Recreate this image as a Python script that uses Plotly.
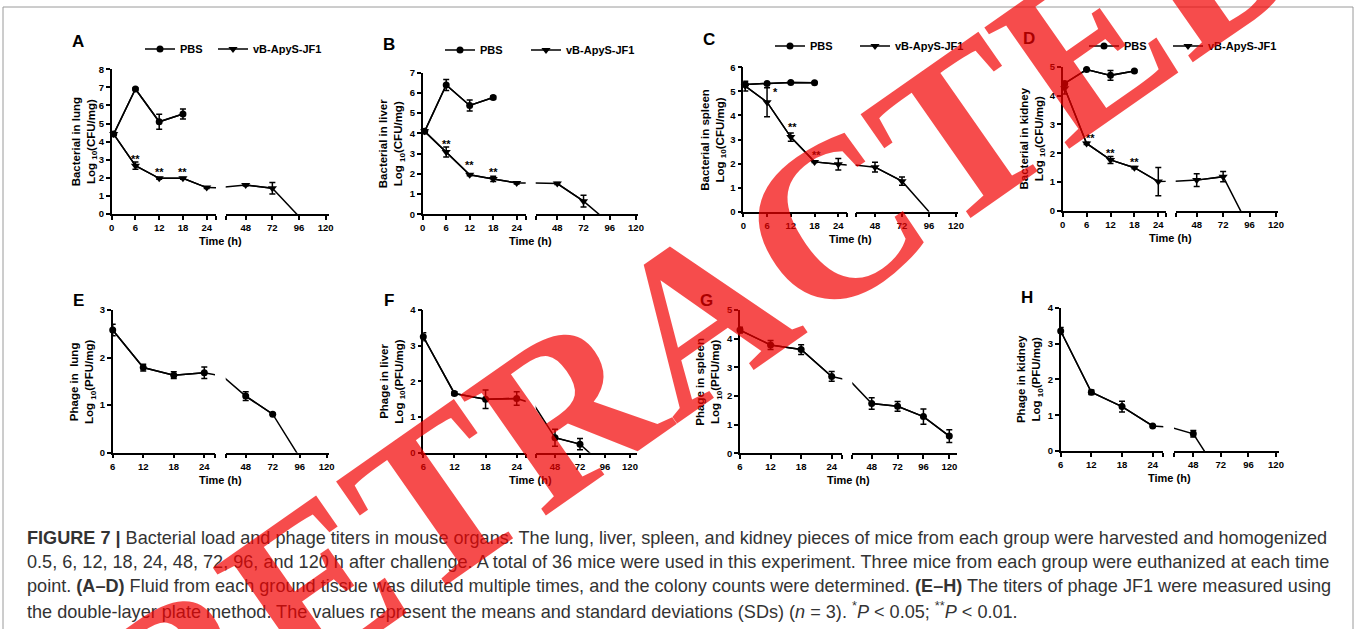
import plotly.graph_objects as go

W, H = 1357, 629
FONT = "Liberation Sans, Arial, sans-serif"

# ---------------- data ----------------
t_pbs = [0.5, 6, 12, 18]
t_bact = [0.5, 6, 12, 18, 24, 48, 72, 96]

lung_pbs = [4.42, 6.91, 5.1, 5.53]
lung_pbs_sd = [0.05, 0.05, 0.42, 0.28]
lung_jf1 = [4.42, 2.67, 1.97, 1.97, 1.46, 1.6, 1.42, -0.14]
lung_jf1_sd = [0.05, 0.2, 0.05, 0.05, 0.05, 0.05, 0.32, 0.0]

liver_pbs = [4.1, 6.39, 5.38, 5.77]
liver_pbs_sd = [0.05, 0.27, 0.27, 0.08]
liver_jf1 = [4.1, 3.08, 1.95, 1.75, 1.55, 1.52, 0.65, -0.45]
liver_jf1_sd = [0.05, 0.25, 0.05, 0.13, 0.05, 0.05, 0.29, 0.0]

spleen_pbs = [5.29, 5.33, 5.37, 5.36]
spleen_pbs_sd = [0.03, 0.03, 0.03, 0.03]
spleen_jf1 = [5.22, 4.55, 3.1, 2.07, 1.97, 1.85, 1.27, 0.0]
spleen_jf1_sd = [0.2, 0.6, 0.17, 0.03, 0.24, 0.2, 0.17, 0.0]

kidney_pbs = [4.42, 4.9, 4.7, 4.85]
kidney_pbs_sd = [0.05, 0.03, 0.17, 0.03]
kidney_jf1 = [4.25, 2.34, 1.77, 1.5, 1.02, 1.07, 1.19, -0.6]
kidney_jf1_sd = [0.2, 0.04, 0.12, 0.04, 0.49, 0.22, 0.18, 0.0]

t_phage_lung = [6, 12, 18, 24, 48, 72, 96]
lung_phage = [2.58, 1.79, 1.63, 1.68, 1.19, 0.81, -0.1]
lung_phage_sd = [0.12, 0.07, 0.07, 0.12, 0.09, 0.02, 0.0]

t_phage_liver = [6, 12, 18, 24, 48, 72, 96]
liver_phage = [3.25, 1.66, 1.5, 1.52, 0.42, 0.24, -0.4]
liver_phage_sd = [0.11, 0.05, 0.26, 0.19, 0.24, 0.16, 0.0]

t_phage_spleen = [6, 12, 18, 24, 48, 72, 96, 120]
spleen_phage = [4.3, 3.78, 3.62, 2.68, 1.74, 1.64, 1.28, 0.6]
spleen_phage_sd = [0.1, 0.16, 0.17, 0.17, 0.2, 0.17, 0.27, 0.22]

t_phage_kidney = [6, 12, 18, 24, 48, 72]
kidney_phage = [3.35, 1.64, 1.24, 0.7, 0.48, -0.72]
kidney_phage_sd = [0.1, 0.06, 0.15, 0.02, 0.09, 0.0]

ticks_early_bact = [0, 6, 12, 18, 24]
ticks_early_phage = [6, 12, 18, 24]
ticks_late = [48, 72, 96, 120]

stars_lung = {6: "**", 12: "**", 18: "**"}
stars_liver = {6: "**", 12: "**", 18: "**"}
stars_spleen = {6: "*", 12: "**", 18: "**"}
stars_kidney = {6: "**", 12: "**", 18: "**"}

caption_lines = [
    "<b>FIGURE 7 |</b> Bacterial load and phage titers in mouse organs. The lung, liver, spleen, and kidney pieces of mice from each group were harvested and homogenized",
    "0.5, 6, 12, 18, 24, 48, 72, 96, and 120 h after challenge. A total of 36 mice were used in this experiment. Three mice from each group were euthanized at each time",
    "point. <b>(A–D)</b> Fluid from each ground tissue was diluted multiple times, and the colony counts were determined. <b>(E–H)</b> The titers of phage JF1 were measured using",
    "the double-layer plate method. The values represent the means and standard deviations (SDs) (<i>n</i> = 3). <sup>*</sup><i>P</i> &lt; 0.05; <sup>**</sup><i>P</i> &lt; 0.01.",
]

# ---------------- panels ----------------
panels = [
    dict(letter="A", ytitle="Bacterial in lung", unit="CFU", ymax=8, xstart=0, xticks=ticks_early_bact,
         series=[("PBS", t_pbs, lung_pbs, lung_pbs_sd, "circle"),
                 ("vB-ApyS-JF1", t_bact, lung_jf1, lung_jf1_sd, "triangle-down")],
         stars=stars_lung, star_off=[(0, -1), (0, -2), (0, -2)],
         g=dict(ax=111.7, p24=206.7, e1=216, s2=225.7, p48=245.7, p120=325.7, e2=329, y0=214, ytop=69.3, tx=27),
         leg=[(160, 49), (233, 49)]),
    dict(letter="B", ytitle="Bacterial in liver", unit="CFU", ymax=7, xstart=0, xticks=ticks_early_bact,
         series=[("PBS", t_pbs, liver_pbs, liver_pbs_sd, "circle"),
                 ("vB-ApyS-JF1", t_bact, liver_jf1, liver_jf1_sd, "triangle-down")],
         stars=stars_liver, star_off=[(0, 0), (0, 2), (0, -1)],
         g=dict(ax=422.7, p24=516.7, e1=525.7, s2=535.7, p48=557.3, p120=636, e2=638, y0=214.3, ytop=72.7, tx=31),
         leg=[(460, 50), (546, 50)]),
    dict(letter="C", ytitle="Bacterial in spleen", unit="CFU", ymax=6, xstart=0, xticks=ticks_early_bact,
         series=[("PBS", t_pbs, spleen_pbs, spleen_pbs_sd, "circle"),
                 ("vB-ApyS-JF1", t_bact, spleen_jf1, spleen_jf1_sd, "triangle-down")],
         stars=stars_spleen, star_off=[(8, 2), (2, 2), (2, -1)],
         g=dict(ax=743.3, p24=838.3, e1=846.7, s2=855.7, p48=875, p120=956, e2=958, y0=211.7, ytop=67.3, tx=30),
         leg=[(790, 46), (875, 46)]),
    dict(letter="D", ytitle="Bacterial in kidney", unit="CFU", ymax=5, xstart=0, xticks=ticks_early_bact,
         series=[("PBS", t_pbs, kidney_pbs, kidney_pbs_sd, "circle"),
                 ("vB-ApyS-JF1", t_bact, kidney_jf1, kidney_jf1_sd, "triangle-down")],
         stars=stars_kidney, star_off=[(4, -3), (0, -1), (0, -2)],
         g=dict(ax=1062.7, p24=1158.3, e1=1165.7, s2=1175.7, p48=1196.7, p120=1276, e2=1278, y0=211, ytop=66.7, tx=30),
         leg=[(1104, 46), (1188, 46)]),
    dict(letter="E", ytitle="Phage in  lung", unit="PFU", ymax=3, xstart=6, xticks=ticks_early_phage,
         series=[("lung", t_phage_lung, lung_phage, lung_phage_sd, "circle")],
         stars={}, star_off=[],
         g=dict(ax=112.7, p24=204.3, e1=215, s2=225.7, p48=245.7, p120=326.7, e2=329.3, y0=452.7, ytop=310, tx=30),
         leg=None),
    dict(letter="F", ytitle="Phage in liver", unit="PFU", ymax=4, xstart=6, xticks=ticks_early_phage,
         series=[("liver", t_phage_liver, liver_phage, liver_phage_sd, "circle")],
         stars={}, star_off=[],
         g=dict(ax=423.3, p24=516.7, e1=525.7, s2=535.7, p48=555, p120=630, e2=637, y0=452.7, ytop=310, tx=31),
         leg=None),
    dict(letter="G", ytitle="Phage in spleen", unit="PFU", ymax=5, xstart=6, xticks=ticks_early_phage,
         series=[("spleen", t_phage_spleen, spleen_phage, spleen_phage_sd, "circle")],
         stars={}, star_off=[],
         g=dict(ax=740, p24=831.7, e1=842.3, s2=852.3, p48=871.7, p120=949.3, e2=957, y0=453.3, ytop=310, tx=31),
         leg=None),
    dict(letter="H", ytitle="Phage in kidney", unit="PFU", ymax=4, xstart=6, xticks=ticks_early_phage,
         series=[("kidney", t_phage_kidney, kidney_phage, kidney_phage_sd, "circle")],
         stars={}, star_off=[],
         g=dict(ax=1060.7, p24=1152.7, e1=1163.3, s2=1174, p48=1193.3, p120=1276, e2=1279, y0=451, ytop=307.7, tx=31),
         leg=None),
]


def fx(px):
    return px / W


def fy(py):
    return 1 - py / H


def ref(prefix, n):
    return prefix if n == 1 else f"{prefix}{n}"


def key(prefix, n):
    return f"{prefix}axis" if n == 1 else f"{prefix}axis{n}"


fig = go.Figure()
layout = dict(
    width=W, height=H, margin=dict(l=0, r=0, t=0, b=0),
    paper_bgcolor="white", plot_bgcolor="white", template="none",
    font=dict(family=FONT, color="black"),
    showlegend=True,
)
annotations = []
axis_common = dict(showgrid=False, zeroline=False, showline=True, linecolor="black", linewidth=1.5,
                   ticks="outside", ticklen=4, tickwidth=1.5, tickcolor="black",
                   tickfont=dict(family=FONT, size=9.5, color="black", weight="bold"),
                   fixedrange=True)
star_font = dict(family=FONT, size=11, color="black", weight="bold")
leg_count = 0

for i, p in enumerate(panels):
    g = p["g"]
    nx1, nx2, ny = 2 * i + 1, 2 * i + 2, i + 1
    xs = p["xstart"]
    k1 = (g["p24"] - g["ax"]) / (24 - xs)
    r1 = [xs, xs + (g["e1"] - g["ax"]) / k1]
    k2 = (g["p120"] - g["p48"]) / 72
    r2 = [48 - (g["p48"] - g["s2"]) / k2, 120 + (g["e2"] - g["p120"]) / k2]

    tv1 = list(p["xticks"]) + [r1[1]]
    tt1 = [str(v) for v in p["xticks"]] + [""]
    tv2 = [r2[0]] + list(ticks_late)
    tt2 = [""] + [str(v) for v in ticks_late]

    layout[key("x", nx1)] = dict(axis_common, domain=[fx(g["ax"]), fx(g["e1"])], range=r1,
                                 anchor=ref("y", ny), tickvals=tv1, ticktext=tt1)
    layout[key("x", nx2)] = dict(axis_common, domain=[fx(g["s2"]), fx(g["e2"])], range=r2,
                                 anchor=ref("y", ny), tickvals=tv2, ticktext=tt2)
    layout[key("y", ny)] = dict(axis_common, domain=[fy(g["y0"]), fy(g["ytop"])], range=[0, p["ymax"]],
                                anchor=ref("x", nx1), tickvals=list(range(0, p["ymax"] + 1)))

    for si, (name, tt, vv, sd, sym) in enumerate(p["series"]):
        legname = None
        if p["leg"] is not None:
            leg_count += 1
            legname = "legend" if leg_count == 1 else f"legend{leg_count}"
            mx, my = p["leg"][si]
            layout[legname] = dict(orientation="h", x=fx(mx - 20), y=fy(my), xanchor="left", yanchor="middle",
                                   font=dict(family=FONT, size=11, color="black", weight="bold"),
                                   bgcolor="rgba(0,0,0,0)", itemwidth=30)
        for seg, (nx, rr) in enumerate([(nx1, r1), (nx2, r2)]):
            # continuous line (clipped to the segment -> broken axis look)
            fig.add_trace(go.Scatter(x=tt, y=vv, mode="lines", line=dict(color="black", width=1.5),
                                     xaxis=ref("x", nx), yaxis=ref("y", ny), showlegend=False,
                                     hoverinfo="skip"))
            idx = [j for j, t in enumerate(tt) if rr[0] <= t <= rr[1] and vv[j] > 0]
            tr = go.Scatter(x=[tt[j] for j in idx], y=[vv[j] for j in idx], mode="lines+markers",
                            name=name, line=dict(color="black", width=1.5),
                            marker=dict(symbol=sym, size=7 if sym == "circle" else 8, color="black"),
                            error_y=dict(type="data", array=[sd[j] for j in idx], color="black",
                                         thickness=1.5, width=3),
                            cliponaxis=False, xaxis=ref("x", nx), yaxis=ref("y", ny),
                            showlegend=(legname is not None and seg == 0), hoverinfo="skip")
            if legname is not None:
                tr.legend = legname
            fig.add_trace(tr)

    # significance stars above the treated series
    if p["stars"]:
        name, tt, vv, sd, sym = p["series"][-1]
        for (t, s), (dx, dy) in zip(p["stars"].items(), p["star_off"]):
            j = tt.index(t)
            annotations.append(dict(x=t, y=vv[j], xref=ref("x", nx1), yref=ref("y", ny), text=s,
                                    showarrow=False, xshift=dx, yshift=dy, yanchor="bottom",
                                    font=star_font))

    # panel letter
    annotations.append(dict(x=fx(g["ax"] - 34), y=fy(g["ytop"] - 28 if i < 4 else g["ytop"] - 10),
                            xref="paper", yref="paper", text=p["letter"], showarrow=False,
                            xanchor="center", yanchor="middle",
                            font=dict(family=FONT, size=17, color="black", weight="bold")))
    # y title
    annotations.append(dict(x=fx(g["ax"] - g["tx"]), y=fy((g["y0"] + g["ytop"]) / 2), xref="paper", yref="paper",
                            text=f"{p['ytitle']}<br>Log <sub>10</sub>({p['unit']}/mg)", textangle=-90,
                            showarrow=False, xanchor="center", yanchor="middle",
                            font=dict(family=FONT, size=11.5, color="black", weight="bold")))
    # x title
    annotations.append(dict(x=fx((g["ax"] + g["e2"]) / 2), y=fy(g["y0"] + 27), xref="paper", yref="paper",
                            text="Time (h)", showarrow=False, xanchor="center", yanchor="middle",
                            font=dict(family=FONT, size=11, color="black", weight="bold")))

# caption
for k, line in enumerate(caption_lines):
    annotations.append(dict(x=fx(25), y=fy(538 + 24 * k), xref="paper", yref="paper", text=line,
                            showarrow=False, xanchor="left", yanchor="middle",
                            font=dict(family=FONT, size=18.1, color="#333333")))

# watermark
annotations.append(dict(x=fx(698), y=fy(316), xref="paper", yref="paper", text="RETRACTED",
                        showarrow=False, textangle=-35, xanchor="center", yanchor="middle",
                        font=dict(family="Liberation Serif, Times New Roman, serif", size=226,
                                  weight="bold", color="rgba(242,0,0,0.70)")))

layout["annotations"] = annotations
layout["shapes"] = [dict(type="rect", xref="paper", yref="paper", x0=fx(3), x1=fx(1353), y0=-0.05, y1=fy(7),
                         line=dict(color="#9a9a9a", width=1), fillcolor="rgba(0,0,0,0)", layer="below")]
fig.update_layout(**layout)
fig.write_html("out.html", config={"displayModeBar": False},
               post_script="document.body.style.margin='0px'; document.body.style.overflow='hidden';")
